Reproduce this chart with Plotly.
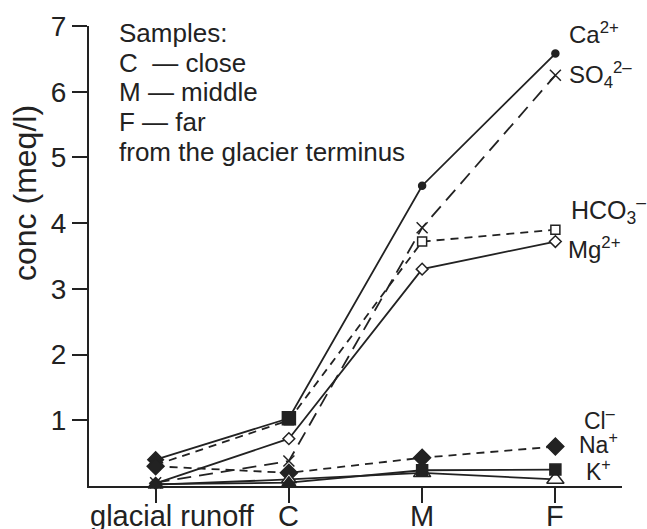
import plotly.graph_objects as go

categories = ["glacial runoff", "C", "M", "F"]
xpos = [0, 1, 2, 3]
Ca = [0.40, 1.03, 4.57, 6.58]
SO4 = [0.05, 0.38, 3.93, 6.25]
HCO3 = [0.32, 1.00, 3.72, 3.90]
Mg = [0.04, 0.72, 3.30, 3.72]
Cl = [0.30, 0.20, 0.43, 0.60]
Na = [0.03, 0.05, 0.24, 0.25]
K = [0.02, 0.10, 0.20, 0.10]
yticks = [1, 2, 3, 4, 5, 6, 7]

INK = "#222222"
FONT = "Liberation Sans, Arial, sans-serif"

fig = go.Figure()

def add(y, dash, symbol, size, fill=True, width=1.8):
    fig.add_trace(go.Scatter(
        x=xpos, y=y, mode="lines+markers",
        line=dict(color=INK, width=width, dash=dash),
        marker=dict(symbol=symbol, size=size, opacity=1,
                    color=INK if fill else "white",
                    line=dict(color=INK, width=1.5)),
        showlegend=False, cliponaxis=False))

add(HCO3, "8px,6px", "square", 9, fill=False)
add(SO4, "14px,8px", "x-thin-open", 11)
add(Mg, "solid", "diamond", 9, fill=False)
add(Ca, "solid", ["diamond", "square", "circle", "circle"], [12, 13, 7, 7])
add(Cl, "8px,6px", "diamond", 13)
add(K, "solid", "triangle-up", [13, 13, 15, 15], fill=False)
add(Na, "solid", ["triangle-up", "triangle-up", "square", "square"], [12, 12, 11, 11])

L, R, T, B = 89, 622, 26, 486
W, H = R - L, B - T

labels = [
    ("Ca<sup>2+</sup>", 567, 33, 24),
    ("SO<sub>4</sub><sup>2\u2013</sup>", 567, 75, 24),
    ("HCO<sub>3</sub><sup>\u2013</sup>", 569, 210, 25),
    ("Mg<sup>2+</sup>", 566, 248, 24),
    ("Cl<sup>\u2013</sup>", 582, 419, 23),
    ("Na<sup>+</sup>", 577, 443, 23),
    ("K<sup>+</sup>", 584, 470, 23),
]
for txt, px, py, fs in labels:
    fig.add_annotation(text=txt, xref="paper", yref="paper",
                       x=(px - L) / W, y=(B - py) / H,
                       xanchor="left", yanchor="middle", showarrow=False,
                       font=dict(family=FONT, size=fs, color=INK))

notes = [("Samples:", 33), ("C  \u2014 close", 63), ("M \u2014 middle", 92),
         ("F \u2014 far", 122), ("from the glacier terminus", 152)]
for txt, py in notes:
    fig.add_annotation(text=txt, xref="paper", yref="paper",
                       x=(117 - L) / W, y=(B - py) / H,
                       xanchor="left", yanchor="middle", showarrow=False,
                       font=dict(family=FONT, size=26, color=INK))

fig.add_annotation(text="conc (meq/l)", xref="paper", yref="paper",
                   x=(25 - L) / W, y=(B - 193) / H, textangle=-90,
                   xanchor="center", yanchor="middle", showarrow=False,
                   font=dict(family=FONT, size=32, color=INK))

shifts = [17, 0, 0, 0]
for cat, xp, sh in zip(categories, xpos, shifts):
    fig.add_annotation(text=cat, xref="x", yref="paper", x=xp, xshift=sh,
                       y=(B - 516) / H, xanchor="center", yanchor="middle",
                       showarrow=False,
                       font=dict(family=FONT, size=29, color=INK))

fig.update_layout(
    width=647, height=529,
    margin=dict(l=L, r=647 - R, t=T, b=529 - B),
    plot_bgcolor="white", paper_bgcolor="white",
    font=dict(family=FONT, color=INK),
    xaxis=dict(range=[-0.5, 3.5], tickvals=xpos, showticklabels=False,
               automargin=False,
               showgrid=False, zeroline=False, showline=True,
               linecolor=INK, linewidth=2.2, ticks="outside", ticklen=15,
               tickwidth=2, tickcolor=INK),
    yaxis=dict(range=[0, 7], tickvals=yticks, showgrid=False, zeroline=False,
               automargin=False,
               showline=True, linecolor=INK, linewidth=2.2, ticks="outside",
               ticklen=15, tickwidth=2, tickcolor=INK,
               tickfont=dict(family=FONT, size=28, color=INK)),
)

fig.write_html("out.html")
